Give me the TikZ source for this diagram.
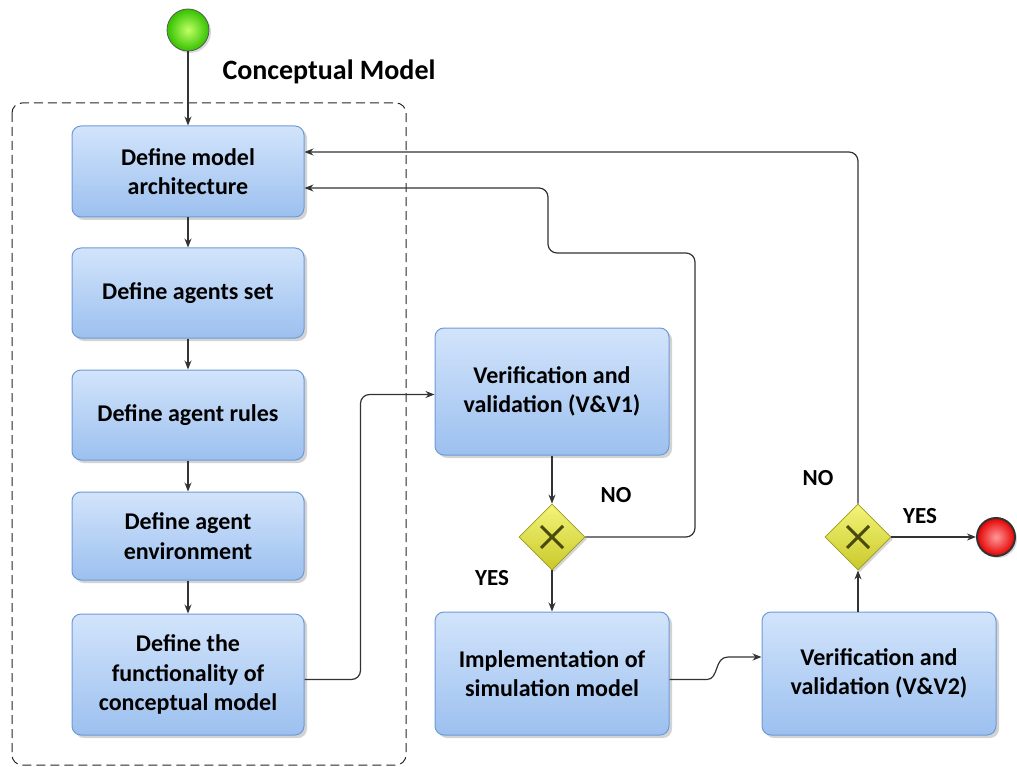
\documentclass[tikz,border=0pt]{standalone}
\usepackage{fontspec}
\setmainfont{Carlito}
\usetikzlibrary{shapes.geometric,shadows,arrows.meta}
\definecolor{boxtop}{HTML}{D2E4FB}
\definecolor{boxbot}{HTML}{9CC0EF}
\definecolor{boxborder}{HTML}{6E9AD6}
\definecolor{linec}{HTML}{333333}
\definecolor{gwtop}{HTML}{F4F47A}
\definecolor{gwbot}{HTML}{C9C92A}
\definecolor{gwborder}{HTML}{9A9A1E}
\definecolor{xcol}{HTML}{4A4A10}
\begin{document}
\begin{tikzpicture}[x=1pt,y=-1pt,
  task/.style={draw=boxborder, line width=1pt, rounded corners=9pt,
    top color=boxtop, bottom color=boxbot, align=center,
    font=\bfseries\fontsize{24}{29.5}\selectfont, inner sep=2pt,
    drop shadow={shadow xshift=3pt, shadow yshift=-3pt, opacity=0.35}},
  gateway/.style={diamond, aspect=1, draw=gwborder, line width=0.8pt,
    top color=gwtop, bottom color=gwbot, minimum width=66pt, minimum height=66pt,
    inner sep=0pt,
    drop shadow={shadow xshift=2pt, shadow yshift=-2pt, opacity=0.35}},
  arr/.style={draw=linec, line width=1.2pt, -{Stealth[length=9pt,width=7pt]}},
  lbl/.style={font=\bfseries\fontsize{23}{27}\selectfont},
  xmark/.style={draw=xcol, line width=3pt}
]
\useasboundingbox (0,0) rectangle (1017,767);

% dashed container
\draw[black!85, line width=1pt, dash pattern=on 9pt off 5pt, rounded corners=10pt]
  (12,103) rectangle (406,765);
\node[font=\bfseries\fontsize{28}{32}\selectfont, anchor=west] (title) at (219,72) {Conceptual Model};

% start and end events
\node[circle, draw=gray!70!black, line width=0.8pt, inner color=green!40!yellow!60!white,
  outer color=green!70!black!80!yellow, minimum size=42pt, inner sep=0pt,
  drop shadow={shadow xshift=2pt, shadow yshift=-2pt, opacity=0.3}] (start) at (188,30) {};
\node[circle, draw=linec, line width=2pt, inner color=red!40!white,
  outer color=red!90!black, minimum size=38pt, inner sep=0pt,
  drop shadow={shadow xshift=2pt, shadow yshift=-2pt, opacity=0.3}] (end) at (996,537) {};

% tasks
\node[task, minimum width=232pt, minimum height=91pt] (B1) at (188,171.5) {Define model\\architecture};
\node[task, minimum width=232pt, minimum height=90pt] (B2) at (188,293) {Define agents set};
\node[task, minimum width=232pt, minimum height=90pt] (B3) at (188,415) {Define agent rules};
\node[task, minimum width=232pt, minimum height=88pt] (B4) at (188,536) {Define agent\\environment};
\node[task, minimum width=232pt, minimum height=121pt] (B5) at (188,674.5) {Define the\\functionality of\\conceptual model};
\node[task, minimum width=234pt, minimum height=127pt] (VV1) at (552,391.5) {Verification and\\validation (V\&V1)};
\node[task, minimum width=234pt, minimum height=123pt] (IM) at (552,673.5) {Implementation of\\simulation model};
\node[task, minimum width=234pt, minimum height=123pt] (VV2) at (879,673.5) {Verification and\\validation (V\&V2)};

% gateways
\node[gateway] (G1) at (552,537) {};
\node[gateway] (G2) at (858,537) {};
\draw[xmark] ([shift={(-11pt,-11pt)}]G1.center) -- ([shift={(11pt,11pt)}]G1.center);
\draw[xmark] ([shift={(-11pt,11pt)}]G1.center) -- ([shift={(11pt,-11pt)}]G1.center);
\draw[xmark] ([shift={(-11pt,-11pt)}]G2.center) -- ([shift={(11pt,11pt)}]G2.center);
\draw[xmark] ([shift={(-11pt,11pt)}]G2.center) -- ([shift={(11pt,-11pt)}]G2.center);

% connectors
\draw[arr] (start.south) -- (start.south |- B1.north);
\draw[arr] (B1) -- (B2);
\draw[arr] (B2) -- (B3);
\draw[arr] (B3) -- (B4);
\draw[arr] (B4) -- (B5);
\draw[arr, rounded corners=9pt] ([yshift=-5pt]B5.east) -- ++(56,0) |- ([yshift=-3pt]VV1.west);
\draw[arr] (VV1.south) -- (G1.north);
\draw[arr] (G1.south) -- (IM.north);
\draw[arr, rounded corners=9pt] (G1.east) -- (695,537) -- (695,253) -- (548,253) -- (548,188)
  -- ([yshift=-16.5pt]B1.east);
\draw[arr] ([yshift=-6pt]IM.east) -- (707,679.5) .. controls (719,679.5) and (714,657) .. (728,657)
  -- ([yshift=16.5pt]VV2.west);
\draw[arr] (VV2.north -| G2.south) -- (G2.south);
\draw[arr, rounded corners=9pt] (G2.north) |- ([yshift=19.5pt]B1.east);
\draw[arr] (G2.east) -- (end.west);

% labels
\node[lbl] (no1) at (616,495) {NO};
\node[lbl] (yes1) at (492,578) {YES};
\node[lbl] (no2) at (818,478) {NO};
\node[lbl] (yes2) at (920,516) {YES};
\end{tikzpicture}
\end{document}
